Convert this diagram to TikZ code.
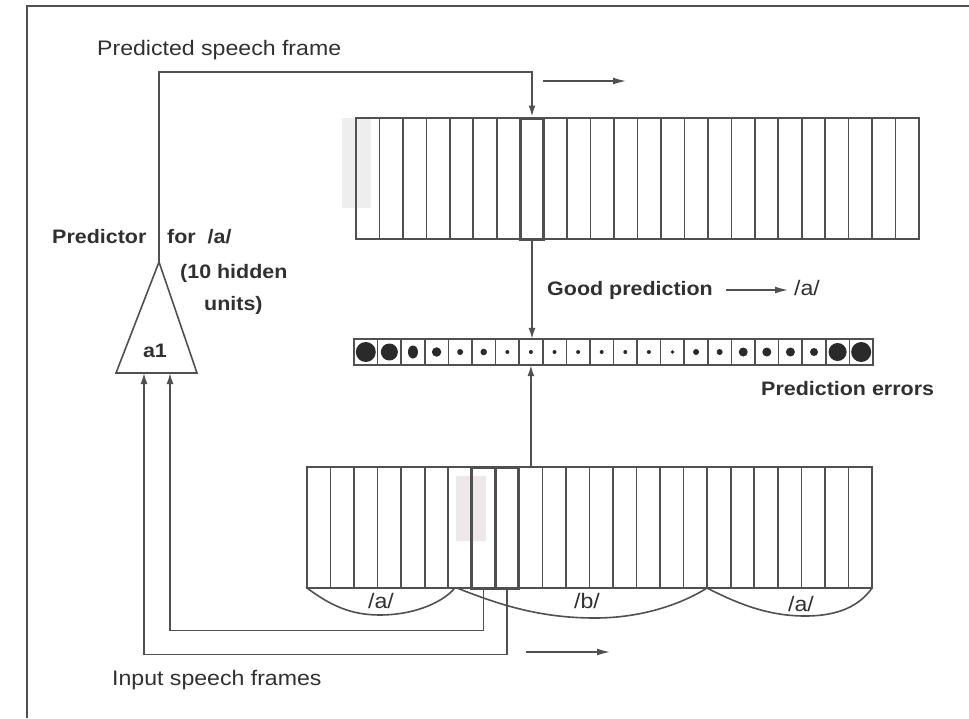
\documentclass[tikz,border=0pt]{standalone}
\usepackage{graphicx}
\usepackage{fontspec}
\setmainfont{Liberation Sans}
\usetikzlibrary{arrows.meta}
\definecolor{lc}{HTML}{505050}
\definecolor{tc}{HTML}{303030}
\definecolor{dotc}{HTML}{2A2A2A}
\definecolor{shadeA}{HTML}{EEEEEE}
\definecolor{shadeB}{HTML}{EEE8EA}
\newcommand{\hwide}[1]{\scalebox{1.1}[1]{#1}}
\begin{document}
\begin{tikzpicture}[x=1pt,y=-1pt,
  ln/.style={draw=lc, line width=1.6pt},
  hicell/.style={draw=lc, line width=3pt, inner sep=0pt, minimum width=23.5pt, minimum height=121pt},
  errbox/.style={draw=none, inner sep=0pt, minimum width=23.6pt, minimum height=26pt},
  arr/.style={ln, -{Latex[length=11pt,width=7pt]}},
  marr/.style={draw=lc, line width=1.4pt, -{Latex[length=13pt,width=7pt]}},
  lbl/.style={text=tc, font=\fontsize{21}{26}\selectfont, inner sep=0pt, anchor=base west},
  blbl/.style={text=tc, font=\fontsize{19.5}{24}\selectfont\bfseries, inner sep=0pt, anchor=base west}]
\useasboundingbox (0,0) rectangle (969,718);
% frame border
\draw[ln] (27,718) -- (27,6) -- (969,6);
% faint shading
\fill[shadeA] (342,118) rectangle (371,208);
\fill[shadeB] (456,476) rectangle (486,541);
% top strip (24 cells)
\draw[ln] (356,118) rectangle (919,239);
\foreach \i in {1,...,23} \draw[ln] ({356+\i*23.458},118) -- ++(0,121);
\node[hicell] (topcell) at (532,178.5) {};
% error strip (22 cells)
\draw[ln] (354,339) rectangle (873,365);
\foreach \i in {1,...,21} \draw[ln] ({354+\i*23.59},339) -- ++(0,26);
\foreach \rx/\ry [count=\i from 0] in {10/10,8.5/8.5,5/6.5,4.7/4.7,3/3,3.3/3.3,2/2,2/2,2/2,2/2,2/2,2/2,2/2,1.8/1.8,3/3,3/3,4.5/4.5,4.5/4.5,4.5/4.5,4/4,9/9,10/10}
  \fill[dotc] ({354+(\i+0.5)*23.59},352) ellipse [x radius=\rx, y radius=\ry];
\node[errbox] (errcell) at (530.9,352) {};
% bottom strip (24 cells)
\draw[ln] (307,467) rectangle (872,588);
\foreach \i in {1,...,23} \draw[ln] ({307+\i*23.54},467) -- ++(0,121);
\node[hicell] (in1) at (483.6,527.5) {};
\node[hicell] (in2) at (507.1,527.5) {};
\coordinate (btop) at (530.9,467);
% segment curves
\draw[ln] (307,588) .. controls (330,605) and (350,615) .. (380,615) .. controls (410,615) and (440,605) .. (455,588);
\draw[ln] (457,588) .. controls (500,605) and (540,618) .. (595,618) .. controls (640,618) and (680,605) .. (707,588);
\draw[ln] (707,588) .. controls (740,605) and (770,616) .. (805,616) .. controls (840,616) and (860,605) .. (872,588);
\node[lbl] (la1) at (368,608) {\hwide{/a/}};
\node[lbl] (lb) at (574,608) {\hwide{/b/}};
\node[lbl] (la2) at (788,611) {\hwide{/a/}};
% predictor triangle
\coordinate (apex) at (159,262);
\coordinate (bl) at (116,373);
\coordinate (br) at (197,373);
\draw[ln, line join=miter] (apex) -- (br) -- (bl) -- cycle;
\coordinate (tin1) at (170,373);
\coordinate (tin2) at (144,373);
\node[blbl, anchor=base] (a1) at (155,357) {\hwide{a1}};
% connectors
\draw[arr] (apex) -- (159,72) -| (topcell.north);
\draw[arr] (topcell.south) -- (topcell.south |- errcell.north);
\draw[arr] (btop) -- (errcell.south);
\draw[arr] (in1.south) -- ++(0,41) -| (tin1);
\draw[arr] (in2.south) -- ++(0,65) -| (tin2);
% motion arrows
\coordinate (m1a) at (543,81); \coordinate (m1b) at (626,81);
\draw[marr] (m1a) -- (m1b);
\coordinate (m2a) at (526,652); \coordinate (m2b) at (610,652);
\draw[marr] (m2a) -- (m2b);
\coordinate (gpa) at (726,290); \coordinate (gpb) at (788,290);
\draw[marr] (gpa) -- (gpb);
% labels
\node[lbl] (tpred) at (97,55) {\hwide{Predicted speech frame}};
\node[blbl] (tpr) at (52,243) {\hwide{Predictor}};
\node[blbl] (tfor) at (167,243) {\hwide{for\ \ /a/}};
\node[blbl] (thid) at (180,278) {\hwide{(10 hidden}};
\node[blbl] (tunits) at (204,310) {\hwide{units)}};
\node[blbl] (tgood) at (547,295) {\hwide{Good prediction}};
\node[lbl] (tga) at (794,295) {\hwide{/a/}};
\node[blbl] (terr) at (761,395) {\hwide{Prediction errors}};
\node[lbl] (tin) at (112,685) {\hwide{Input speech frames}};
\end{tikzpicture}
\end{document}
